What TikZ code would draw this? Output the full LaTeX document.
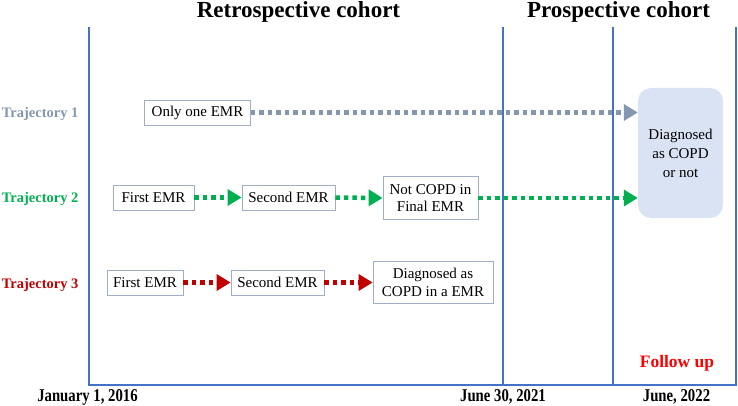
\documentclass[tikz,border=0pt]{standalone}
\usepackage{fontspec}
\usepackage{graphicx}
\setmainfont{Liberation Serif}
\usetikzlibrary{arrows.meta}
\definecolor{axisblue}{HTML}{4472C4}
\definecolor{tgray}{HTML}{8497B0}
\definecolor{tgreen}{HTML}{00B050}
\definecolor{tred}{HTML}{C00000}
\definecolor{boxline}{HTML}{9DAEC6}
\definecolor{boxfill}{HTML}{DAE3F3}
\newcommand{\condensed}[1]{\scalebox{0.82}[1]{#1}}
\begin{document}
\begin{tikzpicture}[x=1pt,y=-1pt,
  emr/.style={draw=boxline, line width=0.8pt, fill=white, inner sep=0pt, align=center,
    font=\fontsize{15}{17.5}\selectfont},
  traj/.style={font=\fontsize{14.5}{16}\selectfont\bfseries, anchor=east},
  datelab/.style={font=\fontsize{18}{20}\selectfont\bfseries},
  ttl/.style={font=\fontsize{23}{26}\selectfont\bfseries},
  flow/.style={line width=4.5pt, dash pattern=on 4.5pt off 4pt, -{Triangle[length=14pt,width=16pt]}},
  axisline/.style={draw=axisblue, line width=2.5pt}
]
\useasboundingbox (0,0) rectangle (738,406);

% titles
\node[ttl] (rt) at (298.5,12) {Retrospective cohort};
\node[ttl] (pt) at (618.5,12) {Prospective cohort};

% trajectory labels
\node[traj, text=tgray] (t1) at (82,114.5) {Trajectory 1};
\node[traj, text=tgreen] (t2) at (82,199.5) {Trajectory 2};
\node[traj, text=tred] (t3) at (82,285) {Trajectory 3};

% result box
\node[fill=boxfill, rounded corners=13pt, minimum width=85pt, minimum height=130pt,
  inner sep=0pt, align=center, font=\fontsize{15}{19}\selectfont] (res) at (680.5,153)
  {Diagnosed\\as COPD\\or not};

% EMR boxes
\node[emr, minimum width=106pt, minimum height=25pt] (one) at (197.5,112.5) {Only one EMR};
\node[emr, minimum width=81pt, minimum height=25pt] (f2) at (153.5,197.5) {First EMR};
\node[emr, minimum width=93pt, minimum height=25pt] (s2) at (288.5,197.5) {Second EMR};
\node[emr, minimum width=95pt, minimum height=43pt] (n2) at (430.5,198) {Not COPD in\\Final EMR};
\node[emr, minimum width=76pt, minimum height=25pt] (f3) at (145,282.5) {First EMR};
\node[emr, minimum width=93pt, minimum height=25pt] (s3) at (277.5,282.5) {Second EMR};
\node[emr, minimum width=120pt, minimum height=42pt] (d3) at (433,282.5) {Diagnosed as\\COPD in a EMR};

% flows
\draw[flow, tgray] (one.east) -- (one.east -| res.west);
\draw[flow, tgreen] (f2.east) -- (s2.west);
\draw[flow, tgreen] (s2.east) -- (n2.west);
\draw[flow, tgreen] (n2.east) -- (n2.east -| res.west);
\draw[flow, tred] (f3.east) -- (s3.west);
\draw[flow, tred] (s3.east) -- (d3.west);

% axes
\coordinate (a0) at (89,27);
\coordinate (a1) at (503,27);
\coordinate (a2) at (613,27);
\coordinate (a3) at (736,27);
\coordinate (b0) at (89,385);
\coordinate (b1) at (503,385);
\coordinate (b2) at (613,385);
\coordinate (b3) at (736,385);
\draw[axisline] (a0) -- (b0) -- (b3) -- (a3);
\draw[axisline] (a1) -- (b1);
\draw[axisline] (a2) -- (b2);

% bottom labels
\node[datelab] (d0) at (87.5,397) {\condensed{January 1, 2016}};
\node[datelab] (d1) at (503,397) {\condensed{June 30, 2021}};
\node[datelab] (d2) at (676.5,397) {\condensed{June, 2022}};
\node[font=\fontsize{17.5}{20}\selectfont\bfseries, text=red] (fu) at (677,363) {Follow up};
\end{tikzpicture}
\end{document}
